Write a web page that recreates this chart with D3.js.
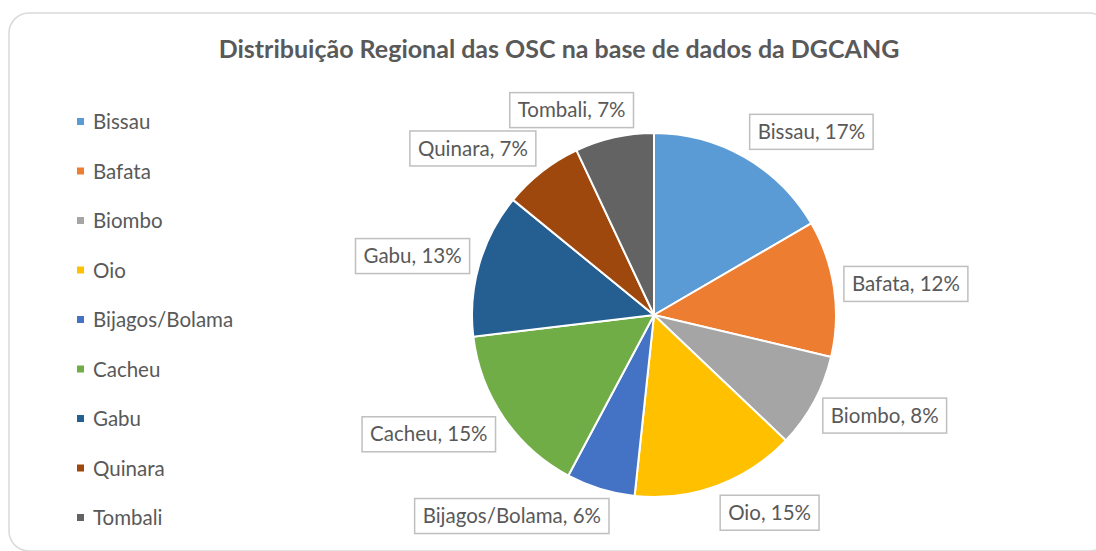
<!DOCTYPE html>
<html>
<head>
<meta charset="utf-8">
<script src="https://cdn.jsdelivr.net/npm/d3@7"></script>
<style>
  body { margin: 0; background: #fff; }
  text { font-family: Lato, "Noto Sans", sans-serif; fill: #595959; }
</style>
</head>
<body>
<div id="chart"></div>
<script>
// Chart data
var regions = ["Bissau", "Bafata", "Biombo", "Oio", "Bijagos/Bolama", "Cacheu", "Gabu", "Quinara", "Tombali"];
var shares = [16.6, 12.1, 8.4, 14.6, 6.1, 15.3, 12.8, 7.1, 7.0];
var colors = ["#5B9BD5", "#ED7D31", "#A5A5A5", "#FFC000", "#4472C4", "#70AD47", "#255E91", "#9E480E", "#636363"];
var title = "Distribuição Regional das OSC na base de dados da DGCANG";

var svgWidth = 1096;
var svgHeight = 551;

var svg = d3.select("#chart")
  .append("svg")
  .attr("width", svgWidth)
  .attr("height", svgHeight);

// card frame
svg.append("rect")
  .attr("x", 9).attr("y", 13)
  .attr("width", 1100).attr("height", 538)
  .attr("rx", 20)
  .attr("fill", "#fff")
  .attr("stroke", "#d9d9d9")
  .attr("stroke-width", 1.5);

svg.append("text")
  .attr("x", 559).attr("y", 58)
  .attr("text-anchor", "middle")
  .attr("font-size", 25)
  .attr("font-weight", "bold")
  .text(title);

// legend
var legend = svg.append("g");
var legendY = d3.scalePoint().domain(regions).range([122, 518]);
regions.forEach(function(name, i) {
  legend.append("rect")
    .attr("x", 77).attr("y", legendY(name) - 4)
    .attr("width", 7).attr("height", 7)
    .attr("fill", colors[i]);
  legend.append("text")
    .attr("x", 93).attr("y", legendY(name) + 7)
    .attr("font-size", 20.5)
    .text(name);
});

// pie
var cx = 654, cy = 315, radius = 182;
var total = d3.sum(shares);
var data = regions.map(function(name, i) { return {name: name, value: shares[i], color: colors[i]}; });

var pie = d3.pie().sort(null).value(function(d) { return d.value; });
var arc = d3.arc().innerRadius(0).outerRadius(radius);
var arcs = pie(data);

var pieGroup = svg.append("g").attr("transform", "translate(" + cx + "," + cy + ")");

pieGroup.selectAll("path")
  .data(arcs)
  .enter()
  .append("path")
  .attr("d", arc)
  .attr("fill", function(d) { return d.data.color; })
  .attr("stroke", "#fff")
  .attr("stroke-width", 2);

// data labels, outside end
var labelArc = d3.arc().innerRadius(radius + 10).outerRadius(radius + 10);
var clamp = function(v) { return Math.max(-1, Math.min(1, v)); };

arcs.forEach(function(d) {
  var pos = labelArc.centroid(d);
  var mid = (d.startAngle + d.endAngle) / 2;
  var g = pieGroup.append("g");
  var t = g.append("text")
    .attr("font-size", 20.5)
    .attr("text-anchor", "middle")
    .attr("dy", "0.35em")
    .text(d.data.name + ", " + Math.round(d.data.value / total * 100) + "%");
  var w = t.node().getComputedTextLength() + 16;
  var h = 35;
  var lx = pos[0] + w / 2 * clamp(3 * Math.sin(mid));
  var ly = pos[1] + h / 2 * clamp(-1.1 * Math.cos(mid));
  g.insert("rect", "text")
    .attr("x", lx - w / 2).attr("y", ly - h / 2)
    .attr("width", w).attr("height", h)
    .attr("fill", "#fff")
    .attr("stroke", "#bfbfbf")
    .attr("stroke-width", 1.5);
  t.attr("x", lx).attr("y", ly);
});
</script>
</body>
</html>
